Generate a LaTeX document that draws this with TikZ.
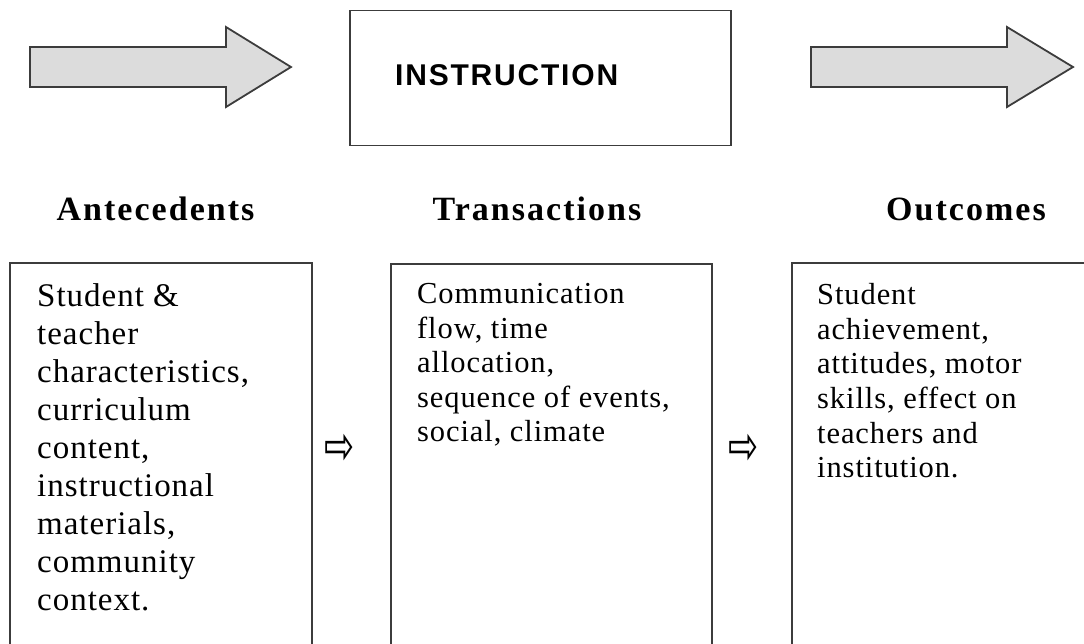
\documentclass[tikz,border=0pt]{standalone}
\usepackage{fontspec}
\setmainfont{Liberation Serif}
\newfontfamily\bodyfont[LetterSpace=3]{Liberation Serif}
\newfontfamily\headfont[LetterSpace=6]{Liberation Serif}
\newfontfamily\capsfont[LetterSpace=6]{Liberation Sans}
\newfontfamily\symfont{DejaVu Sans}
\usetikzlibrary{positioning}
\definecolor{arrowgray}{HTML}{DCDCDC}
\definecolor{framegray}{HTML}{3C3C3C}
\tikzset{
  frame/.style={draw=framegray, line width=1.8pt, inner sep=0pt, outer sep=0pt, anchor=north west},
  bigarrow/.style={draw=framegray, fill=arrowgray, line width=1.8pt, line join=miter},
  heading/.style={font=\headfont\bfseries\fontsize{34}{40}\selectfont, anchor=base, inner sep=0pt},
  bodytext/.style={align=left, inner sep=0pt},
  flowsign/.style={font=\symfont\fontsize{36}{36}\selectfont, inner sep=0pt}
}

\begin{document}
\begin{tikzpicture}[x=1pt,y=-1pt]
   		\useasboundingbox (0,0) rectangle (1084,643);
   		\clip (0,0) rectangle (1084,643);
   		\draw[bigarrow] (30,47) -- (226,47) -- (226,27) -- (291,67) -- (226,107) -- (226,87) -- (30,87) -- cycle; % left block arrow
   		\draw[bigarrow] (811,47) -- (1007,47) -- (1007,27) -- (1073,67) -- (1007,107) -- (1007,87) -- (811,87) -- cycle; % right block arrow
   		\node[frame, minimum width=381pt, minimum height=135pt] (instr) at (350,10.5) {}; % instruction box
   		\node[font=\capsfont\bfseries\fontsize{30}{32}\selectfont, anchor=base west, inner sep=0pt] (instrtext) at (395,85) {INSTRUCTION};
   		\node[heading] (antehead) at (155.5,220) {Antecedents};
   		\node[heading] (transhead) at (537,220) {Transactions};
   		\node[heading] (outhead) at (966,220) {Outcomes};
   		\node[frame, minimum width=302pt, minimum height=420pt] (antebox) at (10,263) {}; % lower boxes
   		\node[frame, minimum width=321pt, minimum height=420pt] (transbox) at (391,264) {};
   		\node[frame, minimum width=350pt, minimum height=420pt] (outbox) at (792,263) {};
   		\node[bodytext, font=\bodyfont\fontsize{33}{38}\selectfont, below right=20pt and 27pt of antebox.north west] (antetext)
   		  {Student \&\\teacher\\characteristics,\\curriculum\\content,\\instructional\\materials,\\community\\context.};
   		\node[bodytext, font=\bodyfont\fontsize{30.5}{34.6}\selectfont, below right=19pt and 26pt of transbox.north west] (transtext)
   		  {Communication\\flow, time\\allocation,\\sequence of events,\\social, climate};
   		\node[bodytext, font=\bodyfont\fontsize{30.5}{34.7}\selectfont, below right=20pt and 25pt of outbox.north west] (outtext)
   		  {Student\\achievement,\\attitudes, motor\\skills, effect on\\teachers and\\institution.};
   		\node[flowsign] (flowab) at (340,449) {\scalebox{1}[1.5]{⇨}}; % small arrows between boxes
   		\node[flowsign] (flowbc) at (743.5,449) {\scalebox{1}[1.5]{⇨}};
   		\end{tikzpicture}
\end{document}
